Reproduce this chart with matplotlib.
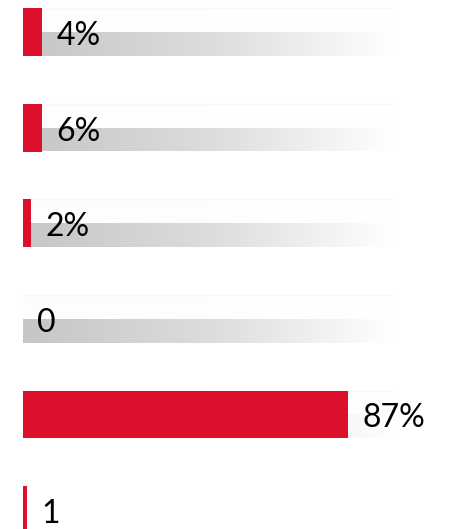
import numpy as np
import matplotlib
matplotlib.use("Agg")
import matplotlib.pyplot as plt
from matplotlib.colors import LinearSegmentedColormap

# Data
categories = ["A", "B", "C", "D", "E", "F"]
bar_values = [5.1, 5.1, 2.1, 0.0, 87.0, 1.1]
labels = ["4%", "6%", "2%", "0", "87%", "1"]
background_max = [99, 99, 99, 99, 99, 0]

RED = "#DC0F2D"

fig = plt.figure(figsize=(4.56, 5.29), dpi=100)
ax = fig.add_axes([0, 0, 1, 1])

px_per_unit = 3.74
x_left = -23 / px_per_unit
x_right = (456 - 23) / px_per_unit
spacing = 95.6
top0 = 32
ax.set_xlim(x_left, x_right)
ax.set_ylim((529 - top0) / spacing, -top0 / spacing)

y = np.arange(len(categories))
h = 0.5

cmap_low = LinearSegmentedColormap.from_list("g", ["#c6c6c6", "#dcdcdc", "#ffffff"])
cmap_up = LinearSegmentedColormap.from_list("u", ["#fdfdfd", "#ffffff"])
grad = np.linspace(0, 1, 256).reshape(1, -1)
for yi, bm in zip(y, background_max):
    if bm <= 0:
        continue
    ax.imshow(grad, cmap=cmap_low, aspect="auto",
              extent=(0, bm, yi + h / 2, yi), zorder=1,
              interpolation="bilinear")
    ax.imshow(grad, cmap=cmap_up, aspect="auto",
              extent=(0, bm, yi, yi - h / 2), zorder=1,
              interpolation="bilinear")
    ax.plot([0, bm], [yi - h / 2, yi - h / 2], color="#f7f7f7",
            lw=0.8, zorder=1.5)

ax.barh(y, bar_values, height=h, color=RED, zorder=2, edgecolor="none")

for yi, v, lab in zip(y, bar_values, labels):
    ax.annotate(lab, xy=(v, yi), xytext=(10.4, -9.4), textcoords="offset points",
                ha="left", va="baseline", fontsize=23, family=["Lato", "DejaVu Sans"],
                color="#000000", zorder=3)

ax.set_xlim(x_left, x_right)
ax.set_ylim((529 - top0) / spacing, -top0 / spacing)
ax.set_axis_off()
fig.savefig("out.png", dpi=100)
